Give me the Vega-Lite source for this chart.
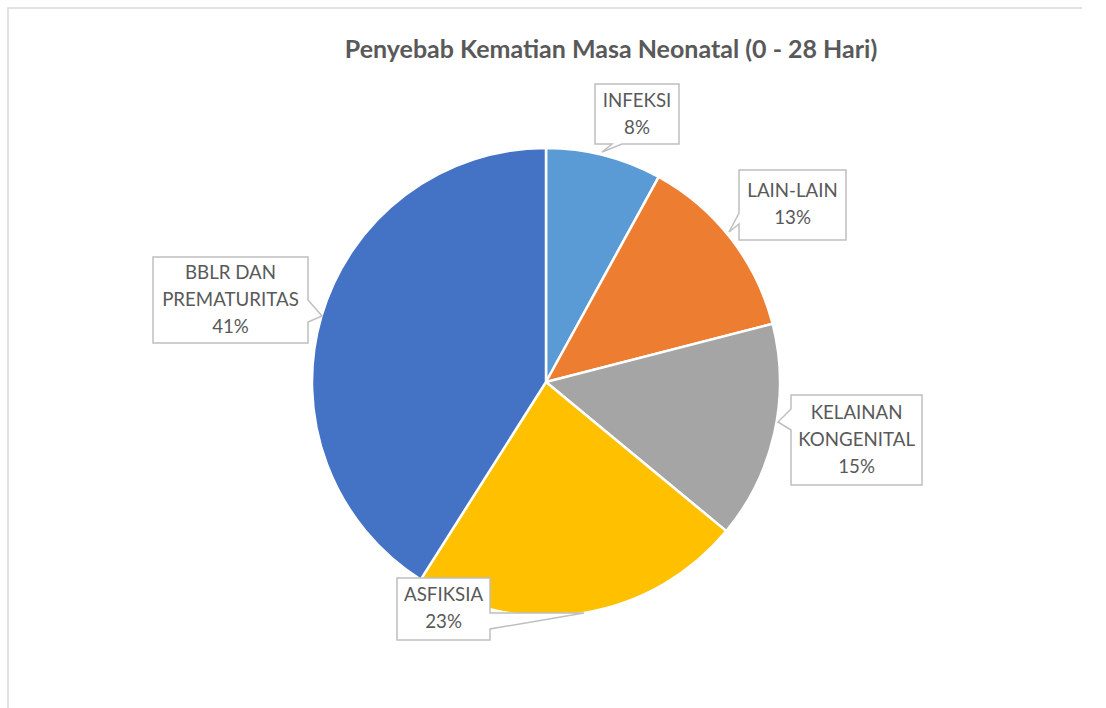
{
  "$schema": "https://vega.github.io/schema/vega-lite/v6.json",
  "width": 1076,
  "height": 748,
  "autosize": "none",
  "padding": {"left": 8, "top": 8, "right": -2, "bottom": 0},
  "view": {"stroke": "#D9D9D9", "strokeWidth": 1.5},
  "title": {
    "text": "Penyebab Kematian Masa Neonatal (0 - 28 Hari)",
    "font": "Lato",
    "fontSize": 25,
    "fontWeight": "bold",
    "color": "#595959",
    "anchor": "middle",
    "frame": "group",
    "baseline": "alphabetic",
    "offset": 0,
    "dy": 75,
    "dx": 65
  },
  "data": {
    "values": [
      {"category": "INFEKSI", "value": 8, "label": "INFEKSI\n8%"},
      {"category": "LAIN-LAIN", "value": 13, "label": "LAIN-LAIN\n13%"},
      {"category": "KELAINAN KONGENITAL", "value": 15, "label": "KELAINAN\nKONGENITAL\n15%"},
      {"category": "ASFIKSIA", "value": 23, "label": "ASFIKSIA\n23%"},
      {"category": "BBLR DAN PREMATURITAS", "value": 41, "label": "BBLR DAN\nPREMATURITAS\n41%"}
    ]
  },
  "encoding": {
    "theta": {"field": "value", "type": "quantitative", "stack": true},
    "order": {"field": "value", "type": "quantitative", "sort": "ascending"}
  },
  "layer": [
    {
      "mark": {"type": "arc", "outerRadius": 234, "stroke": "#FFFFFF", "strokeWidth": 2.5},
      "encoding": {
        "color": {
          "field": "category",
          "type": "nominal",
          "scale": {
            "domain": ["INFEKSI", "LAIN-LAIN", "KELAINAN KONGENITAL", "ASFIKSIA", "BBLR DAN PREMATURITAS"],
            "range": ["#5B9BD5", "#ED7D31", "#A5A5A5", "#FFC000", "#4472C4"]
          },
          "legend": null
        }
      }
    },
    {
      "mark": {
        "type": "point",
        "filled": true,
        "fill": "#FFFFFF",
        "stroke": "#BFBFBF",
        "strokeWidth": 1.5,
        "opacity": 1,
        "size": 4
      },
      "encoding": {
        "shape": {
          "field": "category",
          "type": "nominal",
          "scale": {
            "domain": ["INFEKSI", "LAIN-LAIN", "KELAINAN KONGENITAL", "ASFIKSIA", "BBLR DAN PREMATURITAS"],
            "range": [
              "M49,-298L133,-298L133,-238L76,-238L56,-230L66,-238L49,-238Z",
              "M193,-212L300,-212L300,-142L193,-142L193,-158L183,-150L193,-169Z",
              "M245,13L376,13L376,103L245,103L245,48L232,40L245,27Z",
              "M-149,196L-56,196L-56,231L38,231L-56,247L-56,258L-149,258Z",
              "M-393,-125L-238,-125L-238,-82L-224,-66L-238,-60L-238,-39L-393,-39Z"
            ]
          },
          "legend": null
        }
      }
    },
    {
      "mark": {
        "type": "text",
        "font": "Lato",
        "fontSize": 18.7,
        "lineHeight": 27,
        "lineBreak": "\n",
        "fill": "#595959",
        "align": "center",
        "baseline": "middle",
        "dy": {"expr": "-(length(split(datum.label, '\\n')) - 1) * 13.5"},
        "radius": {"expr": "datum.category == 'INFEKSI' ? 283 : datum.category == 'LAIN-LAIN' ? 303.5 : datum.category == 'KELAINAN KONGENITAL' ? 316 : datum.category == 'ASFIKSIA' ? 249 : 326"},
        "thetaOffset": {"expr": "datum.category == 'INFEKSI' ? 0.076 : datum.category == 'LAIN-LAIN' ? 0.037 : datum.category == 'KELAINAN KONGENITAL' ? -0.035 : datum.category == 'ASFIKSIA' ? 0.581 : -0.0285"}
      },
      "encoding": {
        "text": {"field": "label", "type": "nominal"}
      }
    }
  ]
}
